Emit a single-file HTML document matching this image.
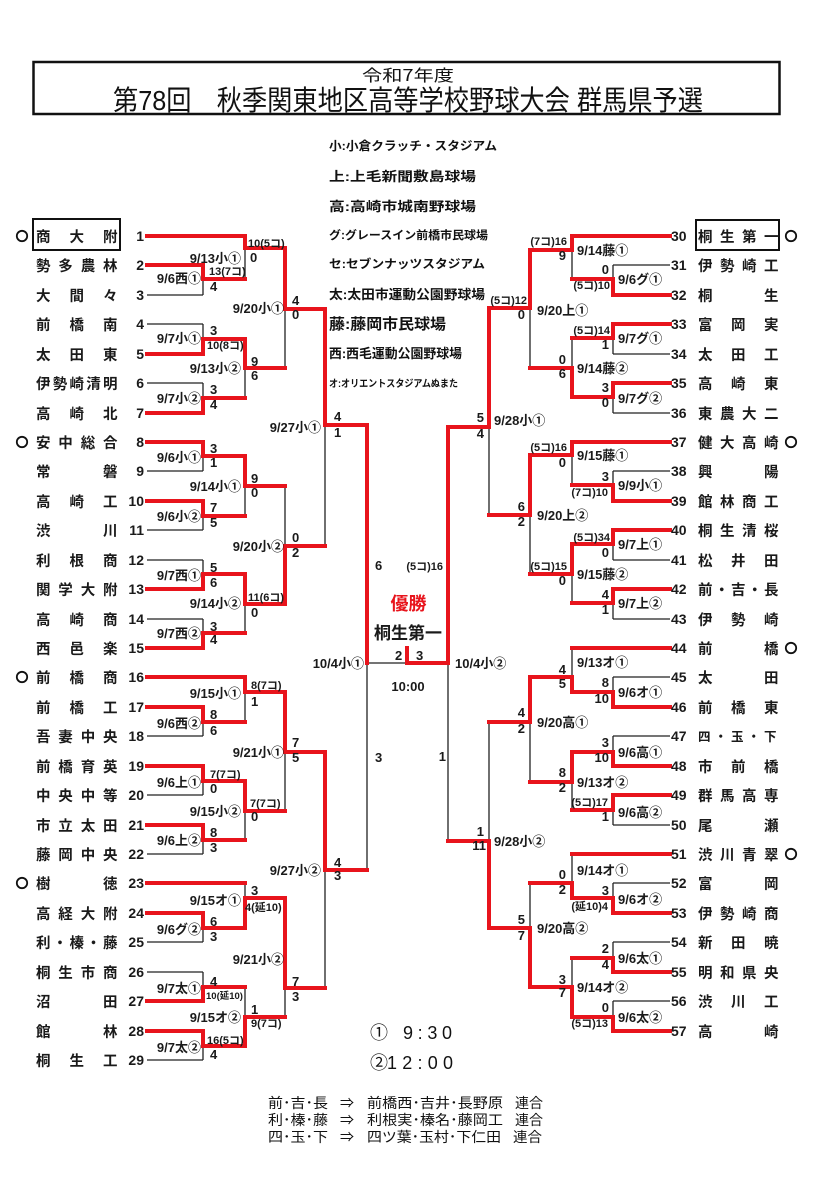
<!DOCTYPE html>
<html><head><meta charset="utf-8">
<style>
html,body{margin:0;padding:0;background:#fff;}
svg{display:block;}
.nm{font-family:"Noto Sans CJK JP","Liberation Sans",sans-serif;font-weight:bold;font-size:14.5px;fill:#1a1a1a;}
.num{font-family:"Liberation Sans",sans-serif;font-weight:bold;font-size:14px;fill:#1a1a1a;}
.dt{font-family:"Liberation Sans","Noto Sans CJK JP",sans-serif;font-weight:bold;font-size:13px;fill:#1a1a1a;}
.sc{font-family:"Liberation Sans","Noto Sans CJK JP",sans-serif;font-weight:bold;font-size:13px;fill:#1a1a1a;}
.sp{font-family:"Liberation Sans","Noto Sans CJK JP",sans-serif;font-weight:bold;font-size:11px;fill:#1a1a1a;}
.se{font-family:"Liberation Sans","Noto Sans CJK JP",sans-serif;font-weight:bold;font-size:9.5px;fill:#1a1a1a;}
.lg{font-family:"Liberation Sans","Noto Sans CJK JP",sans-serif;font-weight:bold;fill:#111;}
.nt{font-family:"Liberation Sans","Noto Sans CJK JP",sans-serif;font-size:14px;fill:#111;}
</style></head>
<body>
<svg width="824" height="1200" viewBox="0 0 824 1200" xmlns="http://www.w3.org/2000/svg">
<rect x="0" y="0" width="824" height="1200" fill="#fff"/>

<!-- Title -->
<rect x="33.5" y="62" width="746" height="52" fill="none" stroke="#111" stroke-width="2.5"/>
<text x="362" y="81" font-family="'Noto Sans CJK JP',sans-serif" font-size="16" textLength="92" lengthAdjust="spacingAndGlyphs" fill="#111">令和7年度</text>
<text x="113" y="110" font-family="'Liberation Sans','Noto Sans CJK JP',sans-serif" font-size="28" textLength="590" lengthAdjust="spacingAndGlyphs" fill="#111">第78回　秋季関東地区高等学校野球大会 群馬県予選</text>

<!-- Legend -->
<g class="lg">
<text x="329" y="150" font-size="12" textLength="168" lengthAdjust="spacingAndGlyphs">小:小倉クラッチ・スタジアム</text>
<text x="329" y="181" font-size="13" textLength="147" lengthAdjust="spacingAndGlyphs">上:上毛新聞敷島球場</text>
<text x="329" y="211" font-size="13" textLength="147" lengthAdjust="spacingAndGlyphs">高:高崎市城南野球場</text>
<text x="329" y="239" font-size="11.5" textLength="159" lengthAdjust="spacingAndGlyphs">グ:グレースイン前橋市民球場</text>
<text x="329" y="268" font-size="12" textLength="156" lengthAdjust="spacingAndGlyphs">セ:セブンナッツスタジアム</text>
<text x="329" y="299" font-size="13" textLength="156" lengthAdjust="spacingAndGlyphs">太:太田市運動公園野球場</text>
<text x="329" y="329" font-size="15" textLength="117" lengthAdjust="spacingAndGlyphs">藤:藤岡市民球場</text>
<text x="329" y="358" font-size="13" textLength="133" lengthAdjust="spacingAndGlyphs">西:西毛運動公園野球場</text>
<text x="329" y="387" font-size="10" textLength="129" lengthAdjust="spacingAndGlyphs">オ:オリエントスタジアムぬまた</text>
</g>

<!-- Seed boxes & circles -->
<rect x="33" y="219" width="87" height="31" fill="none" stroke="#111" stroke-width="2"/>
<rect x="696" y="220" width="83" height="30" fill="none" stroke="#111" stroke-width="2"/>
<g fill="none" stroke="#111" stroke-width="1.8">
<circle cx="22" cy="236" r="5.2"/><circle cx="22" cy="442" r="5.2"/><circle cx="22" cy="677" r="5.2"/><circle cx="22" cy="883" r="5.2"/>
<circle cx="791" cy="236" r="5.2"/><circle cx="791" cy="442" r="5.2"/><circle cx="791" cy="648" r="5.2"/><circle cx="791" cy="854" r="5.2"/>
</g>

<!-- Black lines -->
<g stroke="#222" stroke-width="1.3" fill="none">
<path d="M147 295H203M147 324H203M147 383H203M147 471H203M147 530H203M147 560H203M147 619H203M147 736H203M147 795H203M147 854H203M147 942H203M147 972H203M147 1060H203"/>
<path d="M203 279V295M203 324V339M203 383V398M203 456V471M203 516V530M203 560V574M203 619V633M203 722V736M203 781V795M203 840V854M203 928V942M203 972V987M203 1046V1060"/>
<path d="M245 248V279M245 368V398M245 486V516M245 604V633M245 692V722M245 811V840M245 883V898M245 987V1017"/>
<path d="M285 309V368M285 486V546M285 752V811M285 988V1017M325 425V546M325 870V988M367 663V870M367 663H407"/>
<path d="M613 265H670M613 354H670M613 413H670M613 471H670M613 560H670M613 619H670M613 677H670M613 736H670M613 825H670M613 883H670M613 942H670M613 1001H670"/>
<path d="M613 265V279M613 338V354M613 397V413M613 471V485M613 544V560M613 603V619M613 677V692M613 736V752M613 810V825M613 883V898M613 942V958M613 1001V1017"/>
<path d="M572 250V279M572 338V368M572 455V485M572 574V603M572 648V677M572 782V810M572 854V883M572 958V987"/>
<path d="M530 308V368M530 515V574M530 722V782M530 883V928M489 427V515M489 722V841M448 663V841"/>
</g>

<!-- Red lines -->
<g stroke="#e8141c" stroke-width="4" fill="none" stroke-linecap="square" stroke-linejoin="miter">
<polyline points="147,236 245,236 245,248 285,248 285,309 325,309 325,425 367,425 367,663"/>
<polyline points="147,265 203,265 203,279 245,279"/>
<polyline points="147,354 203,354 203,339 245,339 245,368 285,368"/>
<polyline points="147,413 203,413 203,398 245,398"/>
<polyline points="147,442 203,442 203,456 245,456 245,486 285,486"/>
<polyline points="147,501 203,501 203,516 245,516"/>
<polyline points="147,589 203,589 203,574 245,574 245,604 285,604 285,546 325,546"/>
<polyline points="147,648 203,648 203,633 245,633"/>
<polyline points="147,677 245,677 245,692 285,692 285,752 325,752 325,870 367,870"/>
<polyline points="147,707 203,707 203,722 245,722"/>
<polyline points="147,766 203,766 203,781 245,781 245,811 285,811"/>
<polyline points="147,825 203,825 203,840 245,840"/>
<polyline points="147,883 245,883"/>
<polyline points="147,913 203,913 203,928 245,928 245,898 285,898 285,988 325,988"/>
<polyline points="147,1001 203,1001 203,987 245,987"/>
<polyline points="147,1031 203,1031 203,1046 245,1046 245,1017 285,1017"/>
<polyline points="407,648 407,663 448,663"/>
<polyline points="670,236 572,236 572,250 530,250 530,308 489,308 489,427 448,427 448,663"/>
<polyline points="670,295 613,295 613,279 572,279"/>
<polyline points="670,324 613,324 613,338 572,338"/>
<polyline points="670,383 613,383 613,397 572,397 572,368 530,368"/>
<polyline points="670,442 572,442 572,455 530,455 530,515 489,515"/>
<polyline points="670,501 613,501 613,485 572,485"/>
<polyline points="670,530 613,530 613,544 572,544 572,574 530,574"/>
<polyline points="670,589 613,589 613,603 572,603"/>
<polyline points="670,648 572,648"/>
<polyline points="670,707 613,707 613,692 572,692 572,677 530,677 530,722 489,722"/>
<polyline points="670,766 613,766 613,752 572,752 572,782 530,782"/>
<polyline points="670,795 613,795 613,810 572,810"/>
<polyline points="670,854 572,854"/>
<polyline points="670,913 613,913 613,898 572,898 572,883 530,883"/>
<polyline points="670,972 613,972 613,958 572,958"/>
<polyline points="670,1031 613,1031 613,1017 572,1017 572,987 530,987 530,928 489,928 489,841 448,841"/>
</g>

<!-- Left team names -->
<g class="nm">
<text x="36 69.5 103" y="242">商大附</text>
<text x="36 58.3 80.7 103" y="271">勢多農林</text>
<text x="36 69.5 103" y="301">大間々</text>
<text x="36 69.5 103" y="330">前橋南</text>
<text x="36 69.5 103" y="360">太田東</text>
<text x="36 52.75 69.5 86.25 103" y="389">伊勢崎清明</text>
<text x="36 69.5 103" y="419">高崎北</text>
<text x="36 58.3 80.7 103" y="448">安中総合</text>
<text x="36 103" y="477">常磐</text>
<text x="36 69.5 103" y="507">高崎工</text>
<text x="36 103" y="536">渋川</text>
<text x="36 69.5 103" y="566">利根商</text>
<text x="36 58.3 80.7 103" y="595">関学大附</text>
<text x="36 69.5 103" y="625">高崎商</text>
<text x="36 69.5 103" y="654">西邑楽</text>
<text x="36 69.5 103" y="683">前橋商</text>
<text x="36 69.5 103" y="713">前橋工</text>
<text x="36 58.3 80.7 103" y="742">吾妻中央</text>
<text x="36 58.3 80.7 103" y="772">前橋育英</text>
<text x="36 58.3 80.7 103" y="801">中央中等</text>
<text x="36 58.3 80.7 103" y="831">市立太田</text>
<text x="36 58.3 80.7 103" y="860">藤岡中央</text>
<text x="36 103" y="889">樹徳</text>
<text x="36 58.3 80.7 103" y="919">高経大附</text>
<text x="36 52.75 69.5 86.25 103" y="948">利・榛・藤</text>
<text x="36 58.3 80.7 103" y="978">桐生市商</text>
<text x="36 103" y="1007">沼田</text>
<text x="36 103" y="1037">館林</text>
<text x="36 69.5 103" y="1066">桐生工</text>
</g>

<!-- Right team names -->
<g class="nm">
<text x="698 720 742 764" y="242">桐生第一</text>
<text x="698 720 742 764" y="271">伊勢崎工</text>
<text x="698 764" y="301">桐生</text>
<text x="698 731 764" y="330">富岡実</text>
<text x="698 731 764" y="360">太田工</text>
<text x="698 731 764" y="389">高崎東</text>
<text x="698 720 742 764" y="419">東農大二</text>
<text x="698 720 742 764" y="448">健大高崎</text>
<text x="698 764" y="477">興陽</text>
<text x="698 720 742 764" y="507">館林商工</text>
<text x="698 720 742 764" y="536">桐生清桜</text>
<text x="698 731 764" y="566">松井田</text>
<text x="698 714.5 731 747.5 764" y="595">前・吉・長</text>
<text x="698 731 764" y="625">伊勢崎</text>
<text x="698 764" y="654">前橋</text>
<text x="698 764" y="683">太田</text>
<text x="698 731 764" y="713">前橋東</text>
<text x="698 714.5 731 747.5 764" y="741" font-size="12.5">四・玉・下</text>
<text x="698 731 764" y="772">市前橋</text>
<text x="698 720 742 764" y="801">群馬高専</text>
<text x="698 764" y="831">尾瀬</text>
<text x="698 720 742 764" y="860">渋川青翠</text>
<text x="698 764" y="889">富岡</text>
<text x="698 720 742 764" y="919">伊勢崎商</text>
<text x="698 731 764" y="948">新田暁</text>
<text x="698 720 742 764" y="978">明和県央</text>
<text x="698 731 764" y="1007">渋川工</text>
<text x="698 764" y="1037">高崎</text>
</g>

<!-- Left numbers -->
<g class="num" text-anchor="end">
<text x="144" y="241">1</text><text x="144" y="270">2</text><text x="144" y="300">3</text><text x="144" y="329">4</text><text x="144" y="359">5</text><text x="144" y="388">6</text><text x="144" y="418">7</text><text x="144" y="447">8</text><text x="144" y="476">9</text><text x="144" y="506">10</text><text x="144" y="535">11</text><text x="144" y="565">12</text><text x="144" y="594">13</text><text x="144" y="624">14</text><text x="144" y="653">15</text><text x="144" y="682">16</text><text x="144" y="712">17</text><text x="144" y="741">18</text><text x="144" y="771">19</text><text x="144" y="800">20</text><text x="144" y="830">21</text><text x="144" y="859">22</text><text x="144" y="888">23</text><text x="144" y="918">24</text><text x="144" y="947">25</text><text x="144" y="977">26</text><text x="144" y="1006">27</text><text x="144" y="1036">28</text><text x="144" y="1065">29</text>
</g>
<!-- Right numbers -->
<g class="num">
<text x="671" y="241">30</text><text x="671" y="270">31</text><text x="671" y="300">32</text><text x="671" y="329">33</text><text x="671" y="359">34</text><text x="671" y="388">35</text><text x="671" y="418">36</text><text x="671" y="447">37</text><text x="671" y="476">38</text><text x="671" y="506">39</text><text x="671" y="535">40</text><text x="671" y="565">41</text><text x="671" y="594">42</text><text x="671" y="624">43</text><text x="671" y="653">44</text><text x="671" y="682">45</text><text x="671" y="712">46</text><text x="671" y="741">47</text><text x="671" y="771">48</text><text x="671" y="800">49</text><text x="671" y="830">50</text><text x="671" y="859">51</text><text x="671" y="888">52</text><text x="671" y="918">53</text><text x="671" y="947">54</text><text x="671" y="977">55</text><text x="671" y="1006">56</text><text x="671" y="1036">57</text>
</g>

<!-- Left dates -->
<g class="dt" text-anchor="end">
<text x="201" y="283">9/6西①</text><text x="201" y="343">9/7小①</text><text x="201" y="403">9/7小②</text><text x="201" y="462">9/6小①</text><text x="201" y="521">9/6小②</text><text x="201" y="580">9/7西①</text><text x="201" y="638">9/7西②</text><text x="201" y="728">9/6西②</text><text x="201" y="787">9/6上①</text><text x="201" y="845">9/6上②</text><text x="201" y="934">9/6グ②</text><text x="201" y="993">9/7太①</text><text x="201" y="1052">9/7太②</text>
<text x="241" y="263">9/13小①</text><text x="241" y="373">9/13小②</text><text x="241" y="491">9/14小①</text><text x="241" y="608">9/14小②</text><text x="241" y="698">9/15小①</text><text x="241" y="816">9/15小②</text><text x="241" y="905">9/15オ①</text><text x="241" y="1022">9/15オ②</text>
<text x="284" y="313">9/20小①</text><text x="284" y="551">9/20小②</text><text x="284" y="757">9/21小①</text><text x="284" y="964">9/21小②</text>
<text x="321" y="432">9/27小①</text><text x="321" y="875">9/27小②</text>
<text x="364" y="668">10/4小①</text>
</g>
<!-- Right dates -->
<g class="dt">
<text x="618" y="284">9/6グ①</text><text x="618" y="343">9/7グ①</text><text x="618" y="403">9/7グ②</text><text x="618" y="490">9/9小①</text><text x="618" y="549">9/7上①</text><text x="618" y="608">9/7上②</text><text x="618" y="697">9/6オ①</text><text x="618" y="757">9/6高①</text><text x="618" y="817">9/6高②</text><text x="618" y="904">9/6オ②</text><text x="618" y="963">9/6太①</text><text x="618" y="1022">9/6太②</text>
<text x="577" y="255">9/14藤①</text><text x="577" y="373">9/14藤②</text><text x="577" y="460">9/15藤①</text><text x="577" y="579">9/15藤②</text><text x="577" y="667">9/13オ①</text><text x="577" y="787">9/13オ②</text><text x="577" y="875">9/14オ①</text><text x="577" y="992">9/14オ②</text>
<text x="537" y="315">9/20上①</text><text x="537" y="520">9/20上②</text><text x="537" y="727">9/20高①</text><text x="537" y="933">9/20高②</text>
<text x="494" y="425">9/28小①</text><text x="494" y="846">9/28小②</text>
<text x="455" y="668">10/4小②</text>
</g>

<!-- Left scores -->
<g class="sc">
<text x="209" y="275" class="sp">13(7コ)</text><text x="210" y="291">4</text>
<text x="210" y="335">3</text><text x="207" y="349" class="sp">10(8コ)</text>
<text x="210" y="394">3</text><text x="210" y="409">4</text>
<text x="210" y="453">3</text><text x="210" y="467">1</text>
<text x="210" y="512">7</text><text x="210" y="527">5</text>
<text x="210" y="572">5</text><text x="210" y="587">6</text>
<text x="210" y="631">3</text><text x="210" y="644">4</text>
<text x="210" y="719">8</text><text x="210" y="735">6</text>
<text x="210" y="778" class="sp">7(7コ)</text><text x="210" y="793">0</text>
<text x="210" y="837">8</text><text x="210" y="852">3</text>
<text x="210" y="926">6</text><text x="210" y="941">3</text>
<text x="210" y="986">4</text><text x="206" y="999" class="se">10(延10)</text>
<text x="207" y="1044" class="sp">16(5コ)</text><text x="210" y="1059">4</text>
<text x="248" y="247" class="sp">10(5コ)</text><text x="250" y="262">0</text>
<text x="251" y="366">9</text><text x="251" y="380">6</text>
<text x="251" y="483">9</text><text x="251" y="497">0</text>
<text x="248" y="601" class="sp">11(6コ)</text><text x="251" y="617">0</text>
<text x="251" y="689" class="sp">8(7コ)</text><text x="251" y="706">1</text>
<text x="250" y="807" class="sp">7(7コ)</text><text x="251" y="821">0</text>
<text x="251" y="895">3</text><text x="245" y="911" class="sp">4(延10)</text>
<text x="251" y="1014">1</text><text x="251" y="1027" class="sp">9(7コ)</text>
<text x="292" y="305">4</text><text x="292" y="319">0</text>
<text x="292" y="542">0</text><text x="292" y="557">2</text>
<text x="292" y="747">7</text><text x="292" y="762">5</text>
<text x="292" y="986">7</text><text x="292" y="1001">3</text>
<text x="334" y="421">4</text><text x="334" y="437">1</text>
<text x="334" y="867">4</text><text x="334" y="880">3</text>
<text x="375" y="570">6</text><text x="375" y="762">3</text>
<text x="395" y="660">2</text><text x="416" y="660">3</text>
</g>
<!-- Right scores -->
<g class="sc" text-anchor="end">
<text x="609" y="274">0</text><text x="610" y="289" class="sp">(5コ)10</text>
<text x="610" y="334" class="sp">(5コ)14</text><text x="609" y="349">1</text>
<text x="609" y="392">3</text><text x="609" y="407">0</text>
<text x="609" y="481">3</text><text x="608" y="496" class="sp">(7コ)10</text>
<text x="610" y="541" class="sp">(5コ)34</text><text x="609" y="557">0</text>
<text x="609" y="599">4</text><text x="609" y="614">1</text>
<text x="609" y="687">8</text><text x="609" y="703">10</text>
<text x="609" y="747">3</text><text x="609" y="762">10</text>
<text x="608" y="806" class="sp">(5コ)17</text><text x="609" y="821">1</text>
<text x="609" y="895">3</text><text x="608" y="910" class="sp">(延10)4</text>
<text x="609" y="953">2</text><text x="609" y="969">4</text>
<text x="609" y="1012">0</text><text x="608" y="1027" class="sp">(5コ)13</text>
<text x="567" y="245" class="sp">(7コ)16</text><text x="566" y="260">9</text>
<text x="566" y="364">0</text><text x="566" y="378">6</text>
<text x="567" y="451" class="sp">(5コ)16</text><text x="566" y="467">0</text>
<text x="567" y="570" class="sp">(5コ)15</text><text x="566" y="585">0</text>
<text x="566" y="674">4</text><text x="566" y="688">5</text>
<text x="566" y="777">8</text><text x="566" y="792">2</text>
<text x="566" y="879">0</text><text x="566" y="894">2</text>
<text x="566" y="984">3</text><text x="566" y="997">7</text>
<text x="527" y="304" class="sp">(5コ)12</text><text x="525" y="319">0</text>
<text x="525" y="511">6</text><text x="525" y="526">2</text>
<text x="525" y="717">4</text><text x="525" y="733">2</text>
<text x="525" y="924">5</text><text x="525" y="940">7</text>
<text x="484" y="422">5</text><text x="484" y="438">4</text>
<text x="484" y="836">1</text><text x="486" y="850">11</text>
<text x="443" y="570" class="sp">(5コ)16</text><text x="446" y="761">1</text>
</g>

<!-- Champion -->
<text x="408.5" y="610" text-anchor="middle" font-family="'Noto Sans CJK JP',sans-serif" font-weight="bold" font-size="18" fill="#e8141c">優勝</text>
<text x="408" y="639" text-anchor="middle" font-family="'Noto Sans CJK JP',sans-serif" font-weight="bold" font-size="17" fill="#1a1a1a">桐生第一</text>
<text x="408" y="691" text-anchor="middle" font-family="'Liberation Sans',sans-serif" font-weight="bold" font-size="13" fill="#1a1a1a">10:00</text>

<!-- Times -->
<g font-family="'Liberation Sans','Noto Sans CJK JP',sans-serif" font-size="18" fill="#111">
<text x="370" y="1039">①</text>
<text x="403" y="1039" textLength="49" lengthAdjust="spacing">9:30</text>
<text x="370" y="1069">②</text>
<text x="387" y="1069" textLength="66" lengthAdjust="spacing">12:00</text>
</g>

<!-- Notes -->
<g class="nt">
<text x="268" y="1108" textLength="60" lengthAdjust="spacingAndGlyphs">前･吉･長</text>
<text x="340" y="1108">⇒</text>
<text x="367" y="1108" textLength="136" lengthAdjust="spacingAndGlyphs">前橋西･吉井･長野原</text>
<text x="515" y="1108" textLength="28" lengthAdjust="spacingAndGlyphs">連合</text>
<text x="268" y="1125" textLength="60" lengthAdjust="spacingAndGlyphs">利･榛･藤</text>
<text x="340" y="1125">⇒</text>
<text x="367" y="1125" textLength="136" lengthAdjust="spacingAndGlyphs">利根実･榛名･藤岡工</text>
<text x="515" y="1125" textLength="28" lengthAdjust="spacingAndGlyphs">連合</text>
<text x="268" y="1142" textLength="60" lengthAdjust="spacingAndGlyphs">四･玉･下</text>
<text x="340" y="1142">⇒</text>
<text x="367" y="1142" textLength="134" lengthAdjust="spacingAndGlyphs">四ツ葉･玉村･下仁田</text>
<text x="513" y="1142" textLength="29" lengthAdjust="spacingAndGlyphs">連合</text>
</g>
</svg>
</body></html>
